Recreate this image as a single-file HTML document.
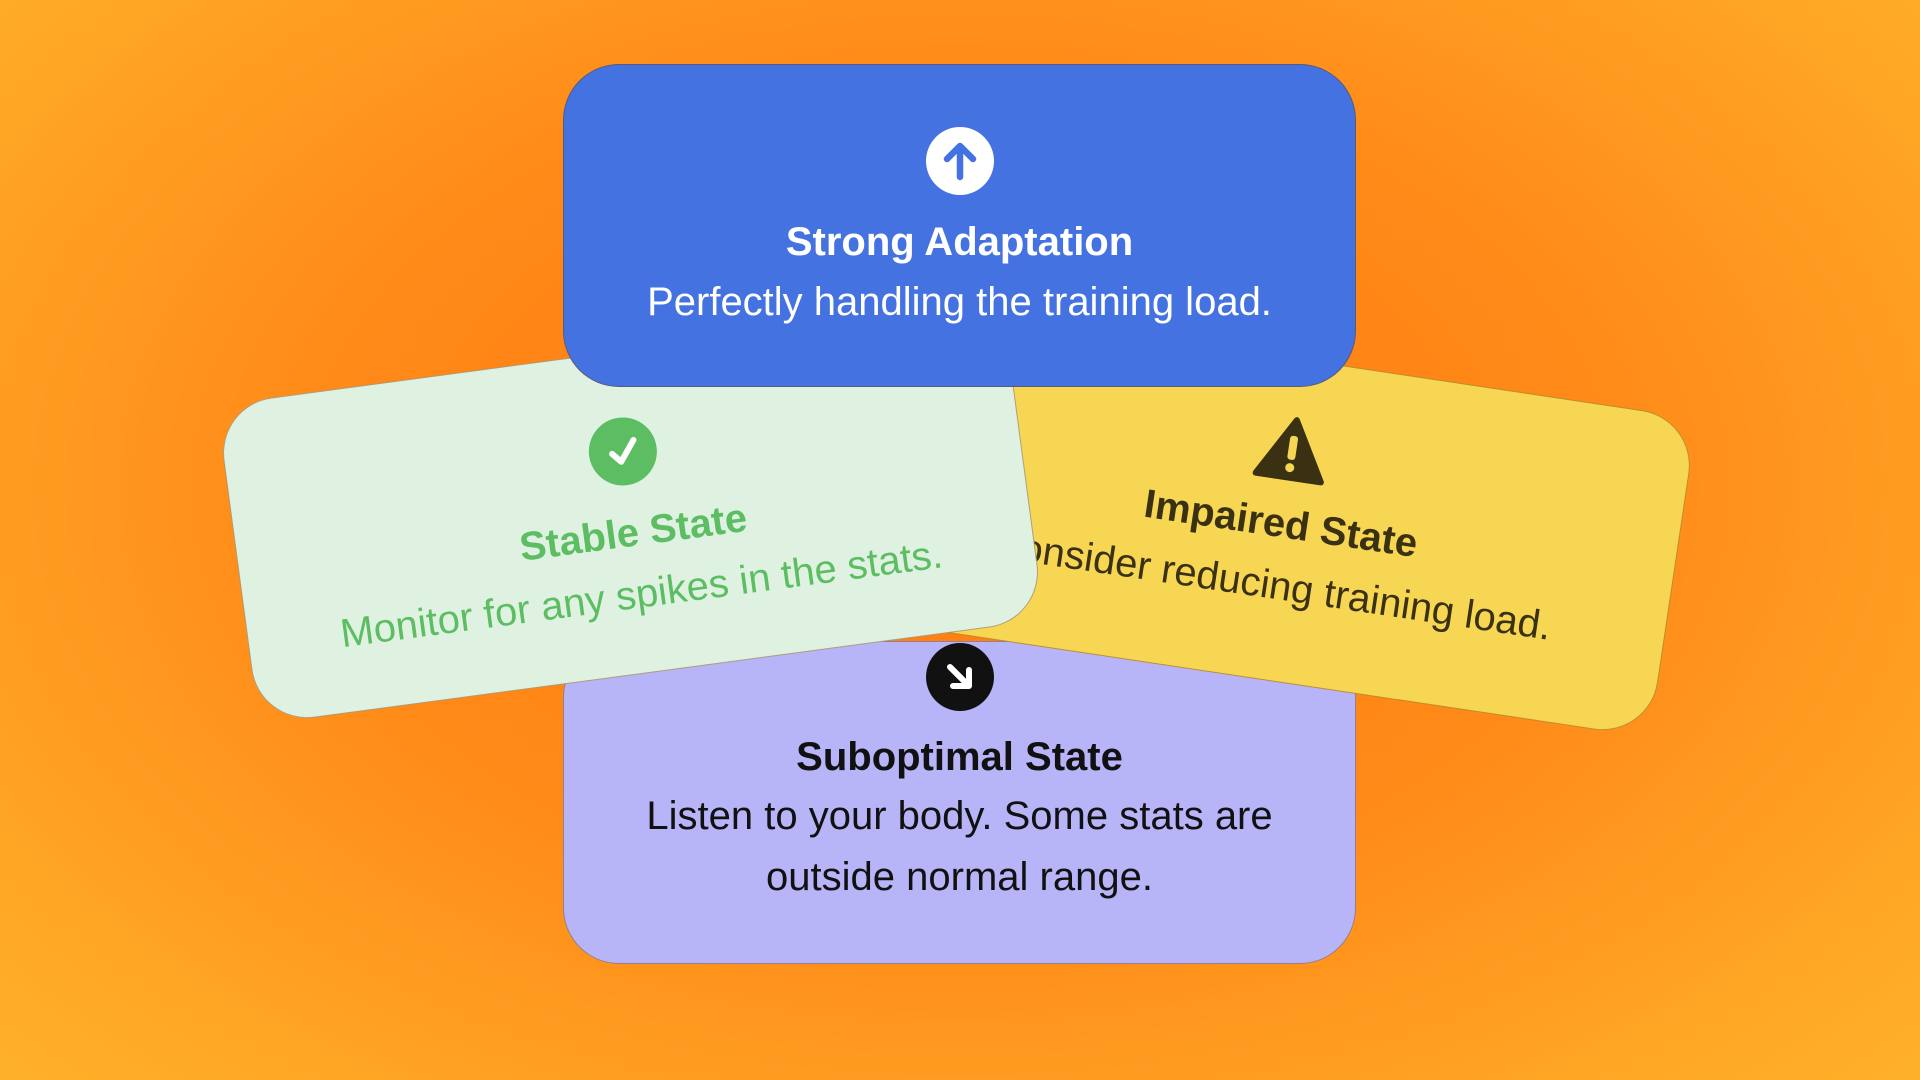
<!DOCTYPE html>
<html><head><meta charset="utf-8"><style>
html,body{margin:0;padding:0;}
body{width:1920px;height:1080px;overflow:hidden;position:relative;
background:radial-gradient(ellipse 75% 85% at 50% 45%,#ff7a10 0%,#ff8a18 45%,#ffa826 80%,#ffb52c 100%);
font-family:"Liberation Sans","DejaVu Sans",sans-serif;}
.card{position:absolute;width:793px;height:323px;border-radius:56px;box-sizing:border-box;
border:1.5px solid rgba(120,60,0,0.45);text-align:center;}
.ic{position:absolute;left:50%;width:68px;height:68px;margin-left:-34px;border-radius:50%;}
.t{position:absolute;left:0;right:0;font-weight:bold;font-size:40px;}
.s{position:absolute;left:-40px;right:-40px;font-size:40px;white-space:nowrap;}
</style></head><body>

<!-- purple -->
<div class="card" style="left:563px;top:641px;background:#b8b4f8;color:#111;">
  <div class="ic" style="top:1px;background:#111;">
    <svg width="68" height="68" viewBox="0 0 68 68"><path d="M24 24 L43 43 M43 27 V43 H27" stroke="#fff" stroke-width="6" fill="none" stroke-linecap="round" stroke-linejoin="round"/></svg>
  </div>
  <div class="t" style="top:93px;">Suboptimal State</div>
  <div class="s" style="top:144px;line-height:61px;">Listen to your body. Some stats are<br>outside normal range.</div>
</div>

<!-- yellow -->
<div class="card" style="left:885px;top:358px;background:#f7d654;color:#3a3012;transform:rotate(8.5deg);">
  <div style="position:absolute;left:50%;top:56px;margin-left:-36px;">
    <svg width="72" height="66" viewBox="0 0 72 66"><path d="M36 4 L69 62 H3 Z" fill="#3a3012" stroke="#3a3012" stroke-width="6" stroke-linejoin="round"/><rect x="32" y="20" width="8" height="24" rx="3" fill="#f7d654"/><circle cx="36" cy="52" r="4.5" fill="#f7d654"/></svg>
  </div>
  <div class="t" style="top:143px;">Impaired State</div>
  <div class="s" style="top:205px;">Consider reducing training load.</div>
</div>

<!-- green -->
<div class="card" style="left:234px;top:351px;background:#dff2e2;color:#5cbd62;transform:rotate(-7.6deg);">
  <div class="ic" style="top:65px;background:#5cbd62;">
    <svg width="68" height="68" viewBox="0 0 68 68"><path d="M23 35 L31 44 L46 24" stroke="#fff" stroke-width="6" fill="none" stroke-linecap="round" stroke-linejoin="round"/></svg>
  </div>
  <div class="t" style="top:159px;">Stable State</div>
  <div class="s" style="top:221px;">Monitor for any spikes in the stats.</div>
</div>

<!-- blue -->
<div class="card" style="left:563px;top:64px;background:#4472e0;color:#fff;">
  <div class="ic" style="top:62px;background:#fff;">
    <svg width="68" height="68" viewBox="0 0 68 68"><path d="M34 50 V20 M21 32 L34 19 L47 32" stroke="#4472e0" stroke-width="6.5" fill="none" stroke-linecap="round" stroke-linejoin="round"/></svg>
  </div>
  <div class="t" style="top:155px;">Strong Adaptation</div>
  <div class="s" style="top:215px;">Perfectly handling the training load.</div>
</div>

</body></html>
